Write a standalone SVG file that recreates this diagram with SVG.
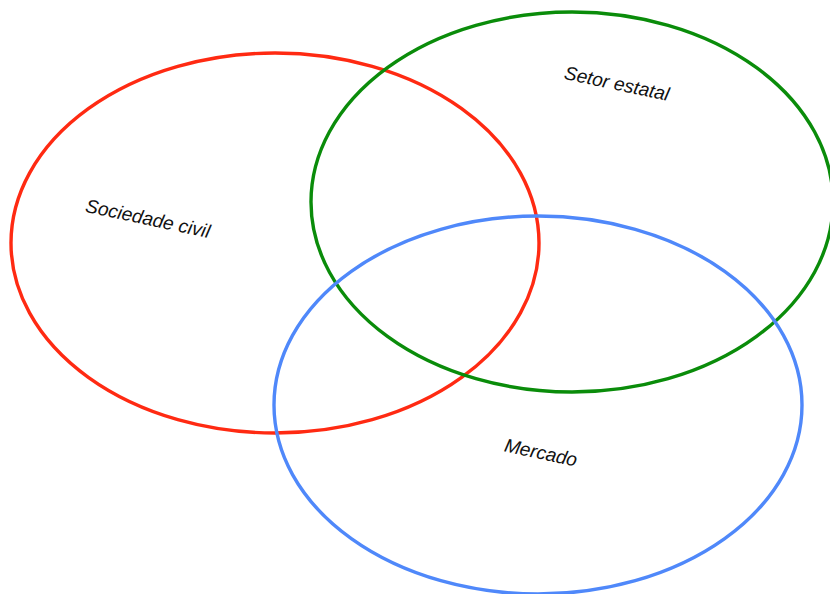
<svg xmlns="http://www.w3.org/2000/svg" width="830" height="594" viewBox="0 0 830 594">
<style>
.e{fill:none;stroke-width:3.4}
.t{font-family:"Liberation Sans",Arial,sans-serif;font-style:italic;font-size:19px;fill:#111;text-anchor:middle}
</style>
<rect width="830" height="594" fill="#fff"/>
<g id="sociedade">
<ellipse class="e" cx="275" cy="243" rx="264" ry="190" stroke="#ff2a12"/>
<text class="t" x="148" y="225" transform="rotate(12 148 218)">Sociedade civil</text>
</g>
<g id="setor">
<ellipse class="e" cx="572" cy="202" rx="261" ry="190" stroke="#0a8c0a"/>
<text class="t" x="617" y="90" transform="rotate(12 617 83)">Setor estatal</text>
</g>
<g id="mercado">
<ellipse class="e" cx="538" cy="405" rx="264" ry="189" stroke="#4f88fa"/>
<text class="t" x="541" y="459" transform="rotate(12 541 452)">Mercado</text>
</g>
<g id="connectors"/>
</svg>
